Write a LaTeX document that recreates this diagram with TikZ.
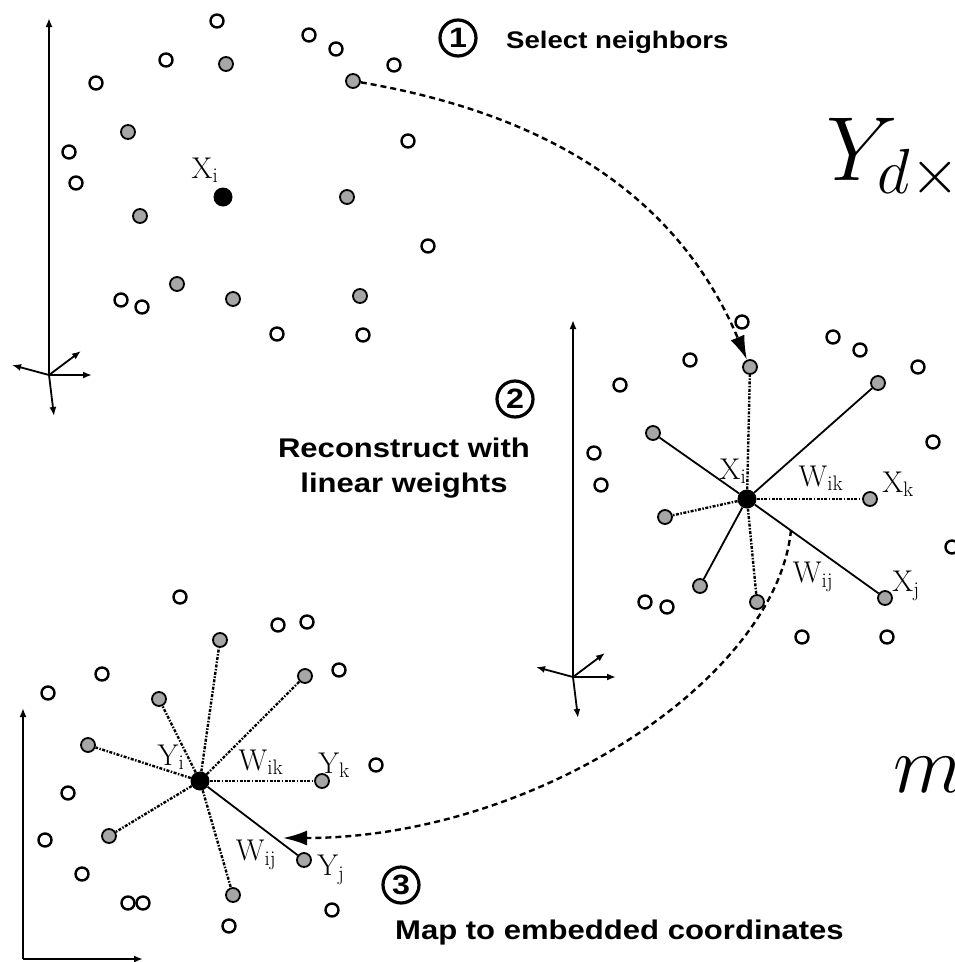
\RequirePackage{fix-cm}
\documentclass[tikz,border=0pt]{standalone}
\usepackage{fontspec}
\newfontfamily\stepfont[FakeStretch=1.15]{Liberation Sans Bold}
\usetikzlibrary{positioning,arrows.meta}

\tikzset{
  opendot/.style={circle, draw, line width=2.4pt, fill=white, minimum size=13pt, inner sep=0pt},
  nbdot/.style={circle, draw, line width=1.8pt, fill=gray!70, minimum size=14pt, inner sep=0pt},
  ctrdot/.style={circle, fill=black, minimum size=19pt, inner sep=0pt},
  stepnum/.style={circle, draw, line width=3.2pt, minimum size=36pt, inner sep=0pt, font=\stepfont\fontsize{28}{28}\selectfont},
  steptext/.style={font=\stepfont\fontsize{27}{35}\selectfont, inner sep=0pt},
  ptlabel/.style={font=\fontsize{30}{32}\selectfont, inner sep=0pt},
  wline/.style={line width=1.8pt},
  dline/.style={line width=2.4pt, dash pattern=on 3pt off 1.5pt on 1.5pt off 1.5pt},
  maparrow/.style={line width=2.4pt, dash pattern=on 6pt off 4pt, -{Latex[length=24pt,width=15pt]}},
  axis/.style={line width=1.8pt, -{Latex[length=9pt,width=7pt]}}
}

\begin{document}
\begin{tikzpicture}[x=1pt, y=-1pt]
    \useasboundingbox (0,0) rectangle (955,962);
    \clip (0,0) rectangle (955,962);

    % 1. high dimensional points
    \foreach \px/\py [count=\n] in {217/21, 166/60, 96/83, 309/35, 336/49, 394/65, 408/141, 69/152, 76/183, 428/246, 121/300, 142/307, 277/334, 363/335}
        \node[opendot] (ao\n) at (\px,\py) {};
    \foreach \px/\py [count=\n] in {226/64, 128/132, 140/216, 347/197, 177/284, 233/299, 360/296}
        \node[nbdot] (an\n) at (\px,\py) {};
    \node[nbdot] (asel) at (353,81) {};
    \node[ctrdot] (ai) at (223,197) {};
    \node[ptlabel] (aixl) at (205,170) {$\mathrm{X}_{\mathrm{i}}$};

    \coordinate (ax1) at (49,375);
    \draw[axis, line width=2.8pt] (ax1) -- (49,18);

    % 2. reconstruction
    \foreach \px/\py [count=\n] in {742/322, 690/360, 620/385, 833/337, 860/350, 918/367, 933/442, 594/453, 601/485, 952/547, 645/602, 667/607, 802/637, 887/637}
        \node[opendot] (bo\n) at (\px,\py) {};
    \node[nbdot] (bt) at (750,367) {};
    \node[nbdot] (bur) at (878,383) {};
    \node[nbdot] (bul) at (653,433) {};
    \node[nbdot] (bk) at (870,499) {};
    \node[nbdot] (bl) at (665,517) {};
    \node[nbdot] (bll) at (700,586) {};
    \node[nbdot] (bb) at (757,602) {};
    \node[nbdot] (bj) at (885,598) {};
    \node[ctrdot] (bi) at (747,499) {};

    \foreach \g in {bur,bul,bll,bj} \draw[wline] (bi) -- (\g);
    \foreach \g in {bt,bk,bl,bb} \draw[dline] (bi) -- (\g);

    \node[ptlabel] (bixl) at (733,471) {$\mathrm{X}_{\mathrm{i}}$};
    \node[ptlabel] (bwk) at (821,478) {$\mathrm{W}_{\mathrm{ik}}$};
    \node[ptlabel] (bxk) at (898,484) {$\mathrm{X}_{\mathrm{k}}$};
    \node[ptlabel] (bwj) at (813,577) {$\mathrm{W}_{\mathrm{ij}}$};
    \node[ptlabel] (bxj) at (906,586) {$\mathrm{X}_{\mathrm{j}}$};

    \coordinate (ax2) at (573,677);
    \draw[axis] (ax2) -- (573,320);

    % 3. embedded points
    \foreach \px/\py [count=\n] in {180/597, 278/625, 307/622, 102/674, 48/693, 339/670, 376/765, 68/793, 45/840, 82/874, 128/903, 143/903, 332/910, 229/926}
        \node[opendot] (co\n) at (\px,\py) {};
    \node[nbdot] (ct) at (220,640) {};
    \node[nbdot] (cur) at (305,676) {};
    \node[nbdot] (cul) at (159,699) {};
    \node[nbdot] (cl) at (88,745) {};
    \node[nbdot] (ck) at (322,781) {};
    \node[nbdot] (cll) at (109,836) {};
    \node[nbdot] (cj) at (304,860) {};
    \node[nbdot] (cb) at (233,895) {};
    \node[ctrdot] (ci) at (200,781) {};

    \draw[wline] (ci) -- (cj);
    \foreach \g in {ct,cur,cul,cl,ck,cll,cb} \draw[dline] (ci) -- (\g);

    \node[ptlabel] (ciyl) at (171,757) {$\mathrm{Y}_{\mathrm{i}}$};
    \node[ptlabel] (cwk) at (261,762) {$\mathrm{W}_{\mathrm{ik}}$};
    \node[ptlabel] (cyk) at (334,765) {$\mathrm{Y}_{\mathrm{k}}$};
    \node[ptlabel] (cwj) at (256,855) {$\mathrm{W}_{\mathrm{ij}}$};
    \node[ptlabel] (cyj) at (331,870) {$\mathrm{Y}_{\mathrm{j}}$};

    \coordinate (ax3) at (23,959);
    \draw[axis] (ax3) -- (23,708);
    \draw[axis] (ax3) -- (143,959);

    % small 3d axes
    \foreach \o in {ax1,ax2} {
        \draw[axis] (\o) -- ++(43,0);
        \draw[axis] (\o) -- ++(32,-24);
        \draw[axis] (\o) -- ++(-37,-10);
        \draw[axis] (\o) -- ++(5,41);
    }

    % steps
    \node[stepnum] (n1) at (458,38) {1};
    \node[steptext, anchor=base west, font=\stepfont\fontsize{24}{28}\selectfont] (sel) at (506,48) {Select neighbors};
    \node[stepnum] (n2) at (515,399) {2};
    \node[steptext, align=center, anchor=base] (rec) at (404,492) {Reconstruct with\\linear weights};
    \node[stepnum] (n3) at (401,885) {3};
    \node[steptext, anchor=base west] (map) at (395,939) {Map to embedded coordinates};

    % mapping arrows
    \coordinate (wstart) at (791,530);
    \coordinate (wend) at (283,838);
    \draw[maparrow] (asel) .. controls (563,117) and (682,206) .. (bt);
    \draw[maparrow] (wstart) .. controls (776,680) and (533,838) .. (wend);

    % cut off math
    \node[anchor=base west, inner sep=0pt, font=\fontsize{91}{100}\selectfont] (ymat) at (826,180) {$Y_{d\times N}$};
    \node[anchor=base west, inner sep=0pt, font=\fontsize{82}{90}\selectfont] (mdim) at (893,792) {$m$};
\end{tikzpicture}
\end{document}
